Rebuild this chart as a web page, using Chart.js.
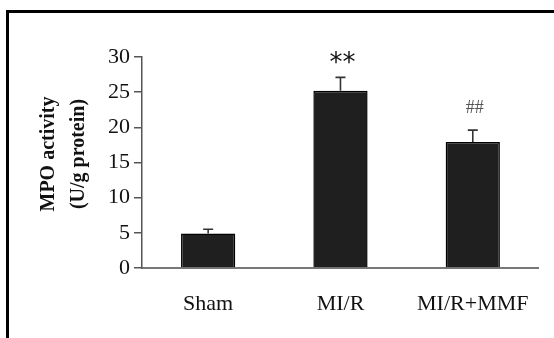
<!DOCTYPE html>
<html>
<head>
<meta charset="utf-8">
<script src="https://cdn.jsdelivr.net/npm/chart.js@4.4.0/dist/chart.umd.min.js"></script>
<style>
  html, body { margin: 0; padding: 0; background: #fff; }
  #marco { position: relative; width: 554px; height: 338px; overflow: hidden; }
  #borde { position: absolute; left: 6px; top: 10px; width: 560px; height: 340px;
           border-left: 3px solid #000; border-top: 3px solid #000; }
  #grafica { position: absolute; left: 0; top: 0; }
</style>
</head>
<body>
<div id="marco">
  <div id="borde"></div>
  <canvas id="grafica" width="554" height="338"></canvas>
</div>
<script>
/* datos */
const categorias = ["Sham", "MI/R", "MI/R+MMF"];
const valores = [4.9, 25.2, 17.9];
const errores = [0.6, 1.9, 1.7];
const marcas = ["", "**", "##"];
const tituloY = ["MPO activity", "(U/g protein)"];
const ticksY = [0, 5, 10, 15, 20, 25, 30];

/* barras de error, marcas de significancia y titulo del eje */
const extras = {
  id: "extras",
  afterDatasetsDraw(chart) {
    const ctx = chart.ctx;
    const x = chart.scales.x;
    const y = chart.scales.y;
    ctx.save();
    ctx.strokeStyle = "#333";
    ctx.lineWidth = 1.6;
    valores.forEach((v, i) => {
      const cx = x.getPixelForValue(i);
      const y0 = y.getPixelForValue(v);
      const y1 = y.getPixelForValue(v + errores[i]);
      ctx.beginPath();
      ctx.moveTo(cx, y0);
      ctx.lineTo(cx, y1);
      ctx.moveTo(cx - 5, y1);
      ctx.lineTo(cx + 5, y1);
      ctx.stroke();
    });

    ctx.textAlign = "center";
    ctx.textBaseline = "middle";
    marcas.forEach((m, i) => {
      if (!m) return;
      const cx = x.getPixelForValue(i);
      const top = y.getPixelForValue(valores[i] + errores[i]);
      if (m === "**") {
        ctx.font = "26px 'DejaVu Sans'";
        ctx.fillStyle = "#111";
        ctx.fillText(m, cx + 2, top - 13);
      } else {
        ctx.font = "18px 'Liberation Serif'";
        ctx.fillStyle = "#555";
        ctx.fillText(m, cx + 2, top - 22);
      }
    });

    ctx.font = "bold 20px 'Liberation Serif'";
    ctx.fillStyle = "#111";
    tituloY.forEach((t, i) => {
      ctx.save();
      ctx.translate(49 + i * 30, 154);
      ctx.rotate(-Math.PI / 2);
      ctx.fillText(t, 0, 0);
      ctx.restore();
    });
    ctx.restore();
  },
};

const grafica = new Chart(document.getElementById("grafica").getContext("2d"), {
  type: "bar",
  data: {
    labels: categorias,
    datasets: [
      {
        label: "MPO",
        data: valores,
        backgroundColor: "#1f1f1f",
        borderColor: "#000",
        borderWidth: 1.5,
        barPercentage: 0.41,
        categoryPercentage: 1,
      },
    ],
  },
  options: {
    responsive: false,
    animation: false,
    layout: { padding: { top: 57, right: 15, left: 0, bottom: 0 } },
    plugins: { legend: { display: false }, tooltip: { enabled: false } },
    scales: {
      x: {
        afterFit: (s) => { s.height = 70; },
        grid: { display: false, drawTicks: false },
        border: { display: true, color: "#777", width: 2 },
        ticks: {
          padding: 23,
          color: "#111",
          font: { family: "'Liberation Serif'", size: 22 },
        },
      },
      y: {
        min: 0,
        max: 30,
        afterFit: (s) => { s.width = 142; },
        afterBuildTicks: (s) => { s.ticks = ticksY.map((v) => ({ value: v })); },
        grid: { drawOnChartArea: false, drawTicks: true, tickLength: 8, color: "#555", lineWidth: 1.5 },
        border: { display: true, color: "#555", width: 1.5 },
        ticks: {
          padding: 4,
          color: "#111",
          font: { family: "'Liberation Serif'", size: 22 },
        },
      },
    },
  },
  plugins: [extras],
});
</script>
</body>
</html>
